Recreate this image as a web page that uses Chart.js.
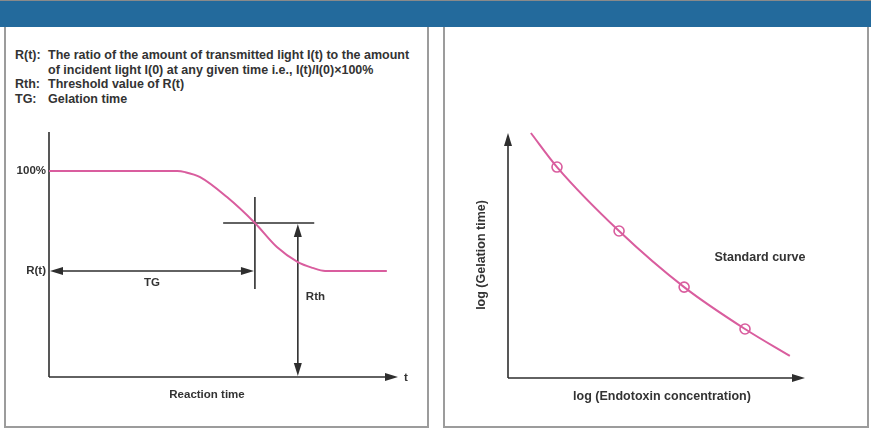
<!DOCTYPE html>
<html>
<head>
<meta charset="utf-8">
<script src="https://cdn.jsdelivr.net/npm/chart.js@4.4.1/dist/chart.umd.min.js"></script>
<style>
  body { margin: 0; width: 871px; height: 430px; background: #fff; overflow: hidden; position: relative;
         font-family: "Liberation Sans", Arial, sans-serif; color: #333; }
  #bar { position: absolute; left: 0; top: 0; width: 871px; height: 27px; background: #236a9c;
         border-top: 1px solid #8a8a8a; box-sizing: border-box; }
  .panel { position: absolute; top: 27px; height: 401px; border: 2px solid #9c9c9c; border-top: none; box-sizing: border-box; }
  #p1 { left: 4px; width: 425px; }
  #p2 { left: 443px; width: 426px; }
  #notes { position: absolute; left: 15px; top: 48px; font-size: 12.5px; line-height: 14.5px; font-weight: bold; }
  #notes div { white-space: nowrap; }
  #notes span { display: inline-block; width: 33px; }
  canvas { position: absolute; top: 0; }
  #left { left: 0; }
  #right { left: 436px; }
</style>
</head>
<body>
<div id="bar"></div>
<div class="panel" id="p1"></div>
<div class="panel" id="p2"></div>
<div id="notes">
  <div><span>R(t):</span>The ratio of the amount of transmitted light I(t) to the amount</div>
  <div><span></span>of incident light I(0) at any given time i.e., I(t)/I(0)×100%</div>
  <div><span>Rth:</span>Threshold value of R(t)</div>
  <div><span>TG:</span>Gelation time</div>
</div>
<canvas id="left" width="435" height="430"></canvas>
<canvas id="right" width="435" height="430"></canvas>
<script>
// left: turbidity curve R(t) against reaction time
const reactionTime = [0, 20, 36.7, 39, 43.3, 51, 59, 65.3, 71.3, 75.5, 79.1, 96.8];
const transmittance = [100, 100, 100, 99.5, 97.1, 87.4, 74.8, 63.1, 55.8, 53, 51.5, 51.5];
const rLevelLabels = ["100%", "R(t)"];
const rLevels = [100, 51.5];
const thresholdR = 74.8;   // Rth
const gelationTime = 59;   // TG
const rthAt = 71.3;        // where the Rth arrow stands

// right: standard curve
const logConc = [7.7, 16.5, 37.4, 59.3, 79.8, 94.9];
const logGelTime = [100, 86.1, 60.0, 37.1, 20.0, 9.0];
const stdConc = [16.5, 37.4, 59.3, 79.8];
const stdGelTime = [86.1, 60.0, 37.1, 20.0];

const pink = "#d95d9e";
const ink = "#2e2e2e";
const fontL = 'bold 11.5px "Liberation Sans", Arial, sans-serif';
const fontR = 'bold 12.5px "Liberation Sans", Arial, sans-serif';

function head(ctx, x, y, dir) {
  const L = 13, W = 4;
  ctx.beginPath();
  ctx.moveTo(x, y);
  if (dir == "right") { ctx.lineTo(x - L, y - W); ctx.lineTo(x - L, y + W); }
  if (dir == "left") { ctx.lineTo(x + L, y - W); ctx.lineTo(x + L, y + W); }
  if (dir == "up") { ctx.lineTo(x - W, y + L); ctx.lineTo(x + W, y + L); }
  if (dir == "down") { ctx.lineTo(x - W, y - L); ctx.lineTo(x + W, y - L); }
  ctx.closePath();
  ctx.fill();
}

function seg(ctx, x1, y1, x2, y2) {
  ctx.beginPath();
  ctx.moveTo(x1, y1);
  ctx.lineTo(x2, y2);
  ctx.stroke();
}

const leftDecor = {
  id: "leftDecor",
  beforeDatasetsDraw(chart) {
    const { ctx, chartArea: a, scales: { x, y } } = chart;
    ctx.save();
    ctx.strokeStyle = ink;
    ctx.fillStyle = ink;
    ctx.lineWidth = 1.6;
    // axes
    seg(ctx, a.left, a.top, a.left, a.bottom);
    seg(ctx, a.left, a.bottom, a.right - 6, a.bottom);
    head(ctx, a.right, a.bottom, "right");
    // threshold cross
    const tx = x.getPixelForValue(gelationTime), ty = y.getPixelForValue(thresholdR);
    seg(ctx, tx, y.getPixelForValue(87.4), tx, y.getPixelForValue(42.7));
    seg(ctx, x.getPixelForValue(49.9), ty, x.getPixelForValue(76), ty);
    // TG arrow
    const gy = y.getPixelForValue(rLevels[1]);
    seg(ctx, a.left + 6, gy, tx - 6, gy);
    head(ctx, a.left + 1, gy, "left");
    head(ctx, tx - 1, gy, "right");
    // Rth arrow
    const rx = x.getPixelForValue(rthAt);
    seg(ctx, rx, ty + 6, rx, a.bottom - 6);
    head(ctx, rx, ty + 1, "up");
    head(ctx, rx, a.bottom - 1, "down");
    // labels
    ctx.fillStyle = "#333";
    ctx.font = fontL;
    ctx.textBaseline = "middle";
    ctx.textAlign = "right";
    rLevels.forEach((v, i) => ctx.fillText(rLevelLabels[i], a.left - 3, y.getPixelForValue(v)));
    ctx.textAlign = "center";
    ctx.fillText("TG", (a.left + tx) / 2, gy + 12);
    ctx.fillText("Reaction time", 207, a.bottom + 18);
    ctx.textAlign = "left";
    ctx.fillText("Rth", rx + 8, 297);
    ctx.fillText("t", a.right + 6, a.bottom + 1);
    ctx.restore();
  }
};

const rightDecor = {
  id: "rightDecor",
  beforeDatasetsDraw(chart) {
    const { ctx, chartArea: a } = chart;
    ctx.save();
    ctx.strokeStyle = ink;
    ctx.fillStyle = ink;
    ctx.lineWidth = 1.6;
    seg(ctx, a.left, a.top + 6, a.left, a.bottom);
    head(ctx, a.left, a.top, "up");
    seg(ctx, a.left, a.bottom, a.right - 6, a.bottom);
    head(ctx, a.right, a.bottom, "right");
    ctx.fillStyle = "#333";
    ctx.font = fontR;
    ctx.textBaseline = "middle";
    ctx.textAlign = "center";
    ctx.fillText("Standard curve", 760 - 436, 258);
    ctx.fillText("log (Endotoxin concentration)", 662 - 436, a.bottom + 19);
    ctx.translate(482 - 436, 255);
    ctx.rotate(-Math.PI / 2);
    ctx.fillText("log (Gelation time)", 0, 0);
    ctx.restore();
  }
};

new Chart(document.getElementById("left"), {
  type: "line",
  data: {
    datasets: [{
      data: reactionTime.map((t, i) => ({ x: t, y: transmittance[i] })),
      borderColor: pink,
      borderWidth: 2,
      pointRadius: 0,
      cubicInterpolationMode: "monotone",
      clip: false
    }]
  },
  options: {
    responsive: false,
    animation: false,
    events: [],
    layout: { padding: { left: 49, right: 37, top: 132, bottom: 53 } },
    plugins: { legend: { display: false }, tooltip: { enabled: false } },
    scales: {
      x: { type: "linear", min: 0, max: 100, display: false },
      y: { min: 0, max: 119, display: false }
    }
  },
  plugins: [leftDecor]
});

new Chart(document.getElementById("right"), {
  type: "line",
  data: {
    datasets: [
      {
        data: logConc.map((c, i) => ({ x: c, y: logGelTime[i] })),
        borderColor: pink,
        borderWidth: 2,
        pointRadius: 0,
        cubicInterpolationMode: "monotone",
        clip: false
      },
      {
        data: stdConc.map((c, i) => ({ x: c, y: stdGelTime[i] })),
        showLine: false,
        pointRadius: 5,
        pointBorderWidth: 1.6,
        pointBorderColor: pink,
        pointBackgroundColor: "#fff"
      }
    ]
  },
  options: {
    responsive: false,
    animation: false,
    events: [],
    layout: { padding: { left: 72, right: 66, top: 133, bottom: 52 } },
    plugins: { legend: { display: false }, tooltip: { enabled: false } },
    scales: {
      x: { type: "linear", min: 0, max: 100, display: false },
      y: { min: 0, max: 100, display: false }
    }
  },
  plugins: [rightDecor]
});
</script>
</body>
</html>
